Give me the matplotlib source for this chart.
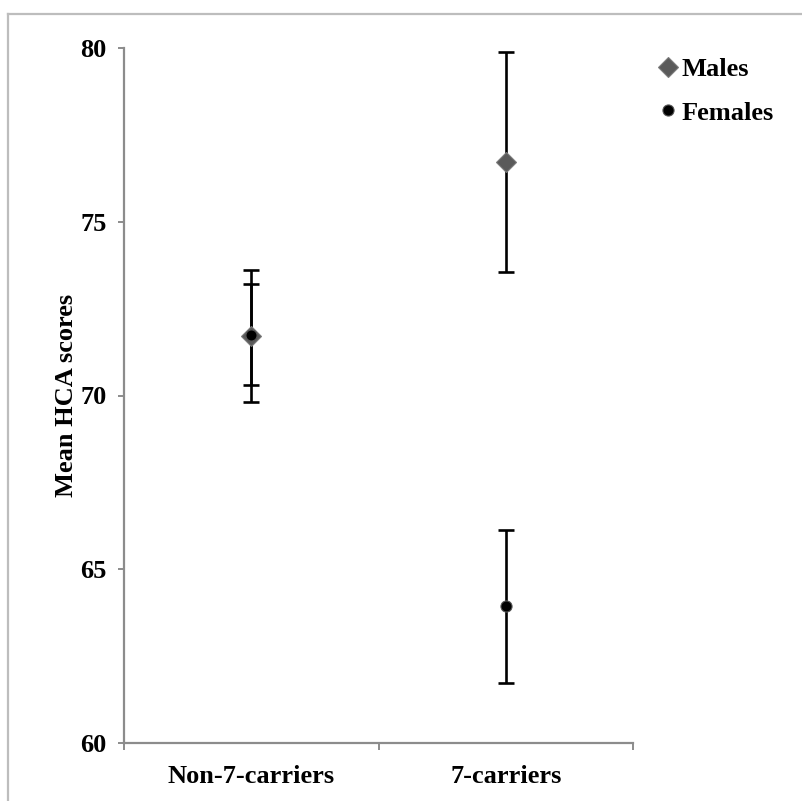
import matplotlib
matplotlib.use("Agg")
import matplotlib.pyplot as plt
from matplotlib.lines import Line2D

# données
groups = ["Non-7-carriers", "7-carriers"]
males_mean = [71.71, 76.72]
males_err = [1.90, 3.17]
females_mean = [71.75, 63.94]
females_err = [1.46, 2.20]
y_ticks = [60, 65, 70, 75, 80]

plt.rcParams["font.family"] = ["Liberation Serif", "DejaVu Serif"]
plt.rcParams["font.weight"] = "bold"

fig = plt.figure(figsize=(8.03, 8.01), dpi=100)
ax = fig.add_axes([124 / 803, 58 / 801, 509 / 803, 695 / 801])

x = list(range(len(groups)))

# barres d'erreur
ax.errorbar(x, males_mean, yerr=males_err, fmt="none", ecolor="black",
            elinewidth=1.9, capsize=5.8, capthick=1.9, zorder=2)
ax.errorbar(x, females_mean, yerr=females_err, fmt="none", ecolor="black",
            elinewidth=1.9, capsize=5.8, capthick=1.9, zorder=2)

# points
ax.plot(x, males_mean, linestyle="none", marker="D", markersize=10,
        markerfacecolor="#5a5a5a", markeredgecolor="#7a7a7a",
        markeredgewidth=0.8, label="Males", zorder=3)
ax.plot(x, females_mean, linestyle="none", marker="o", markersize=8,
        markerfacecolor="black", markeredgecolor="#555555",
        markeredgewidth=0.8, label="Females", zorder=4)

ax.set_xlim(-0.5, 1.5)
ax.set_ylim(60, 80)
ax.set_yticks(y_ticks)
ax.set_xticks(x)
ax.set_xticklabels(groups)
ax.set_xticks([-0.5, 0.5, 1.5], minor=True)

for side in ["top", "right"]:
    ax.spines[side].set_visible(False)
for side in ["left", "bottom"]:
    ax.spines[side].set_color("#8c8c8c")
    ax.spines[side].set_linewidth(1.6)

ax.tick_params(axis="y", which="major", direction="out", length=4.5,
               width=1.4, color="#8c8c8c", labelsize=19, pad=8)
ax.tick_params(axis="x", which="major", length=0, labelsize=19, pad=16)
ax.tick_params(axis="x", which="minor", direction="out", length=5,
               width=1.4, color="#8c8c8c")
for lab in ax.get_xticklabels() + ax.get_yticklabels():
    lab.set_fontweight("bold")

ax.set_ylabel("Mean HCA scores", fontsize=19, fontweight="bold")
ax.yaxis.set_label_coords(-0.09, 0.5)

ax.legend(loc="upper left", bbox_to_anchor=(659 / 803, 1 - 58 / 801),
          bbox_transform=fig.transFigure, frameon=False,
          handlelength=0.7, handletextpad=0.15, labelspacing=0.75,
          borderpad=0, borderaxespad=0, prop={"weight": "bold", "size": 19})

# cadre gris autour de la figure (gauche et haut)
fig.add_artist(Line2D([8 / 803, 8 / 803], [0, 1 - 14 / 801],
                      transform=fig.transFigure, color="#bdbdbd", lw=1.6))
fig.add_artist(Line2D([8 / 803, 1], [1 - 14 / 801, 1 - 14 / 801],
                      transform=fig.transFigure, color="#bdbdbd", lw=1.6))

fig.savefig("out.png", dpi=100)
